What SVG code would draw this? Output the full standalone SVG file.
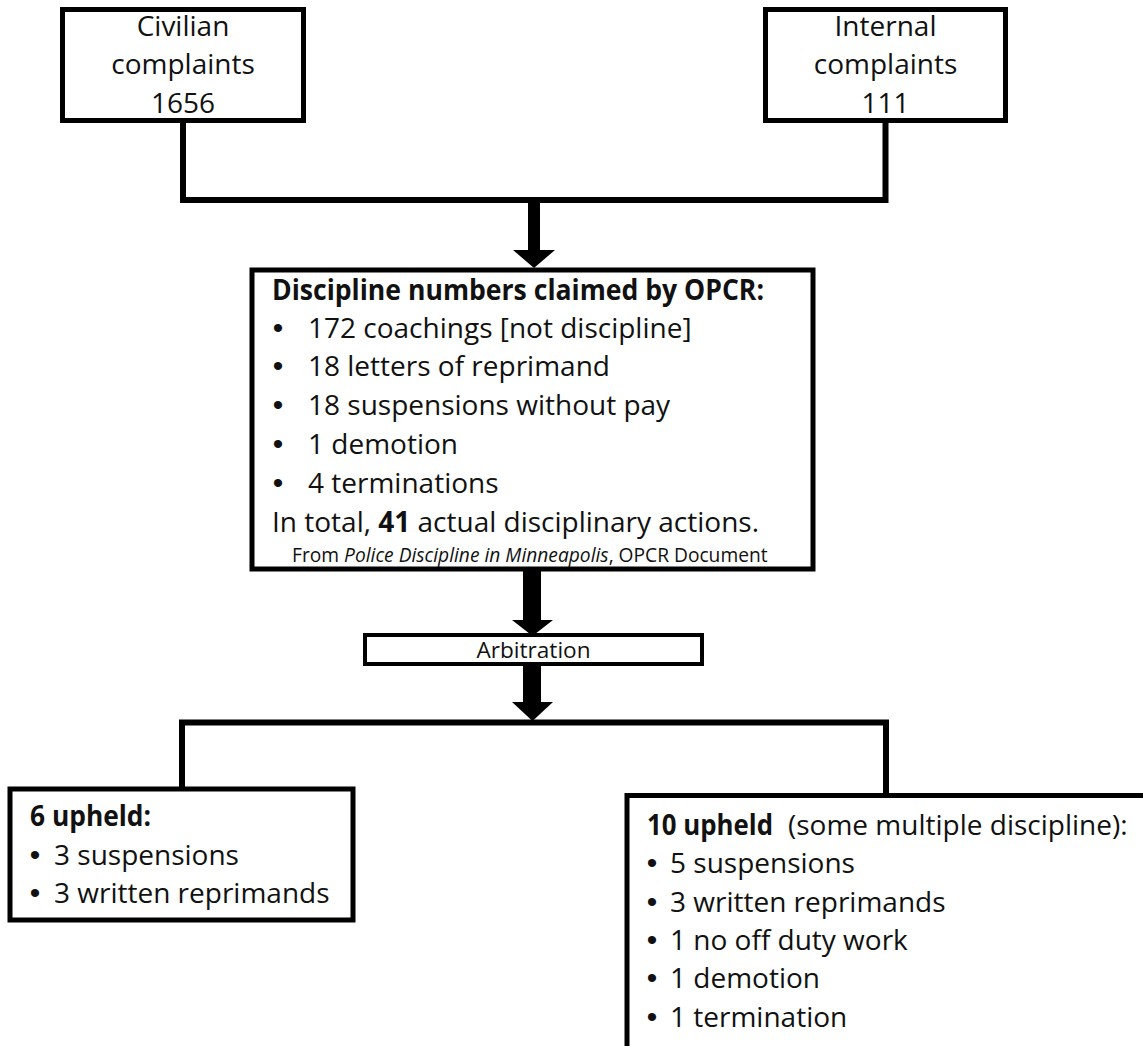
<svg xmlns="http://www.w3.org/2000/svg" width="1143" height="1046" viewBox="0 0 1143 1046">
<defs>
<style>
.box{fill:#fff;stroke:#000;stroke-width:5}
.thin{fill:#fff;stroke:#000;stroke-width:4}
.conn{fill:none;stroke:#000;stroke-width:6;stroke-linejoin:miter}
.arr{fill:#000;stroke:none}
text{font-family:"Open Sans","Noto Sans",sans-serif;fill:#111}
.t28{font-size:28px}
.b{font-weight:bold}
.c{text-anchor:middle}
.small{font-size:19.2px}
.arb{font-size:22.6px}
.bul{font-family:"Liberation Sans",Arial,sans-serif;font-size:30px;text-anchor:middle}
</style>
</defs>
<rect width="1143" height="1046" fill="#fff"/>
<g id="connectors">
<path class="conn" d="M183,121 V200 H885.5 V121"/>
<rect class="arr" x="528" y="200" width="12" height="51"/>
<polygon class="arr" points="513,250 555,250 534,268"/>
<rect class="arr" x="523" y="569" width="18" height="52"/>
<polygon class="arr" points="512,620 553,620 532.5,636"/>
<rect class="arr" x="523" y="664" width="18" height="39"/>
<polygon class="arr" points="512,702 553,702 532.5,721"/>
<path class="conn" d="M182,789 V722.5 H886 V795"/>
</g>
<g id="civilian">
<rect class="box" x="62.5" y="9.5" width="241" height="111"/>
<text class="t28 c" x="183" y="36">Civilian</text>
<text class="t28 c" x="183" y="74">complaints</text>
<text class="t28 c" x="183" y="113">1656</text>
</g>
<g id="internal">
<rect class="box" x="765.5" y="9.5" width="240" height="111"/>
<text class="t28 c" x="885.5" y="36">Internal</text>
<text class="t28 c" x="885.5" y="74">complaints</text>
<text class="t28 c" x="885.5" y="113">111</text>
</g>
<g id="opcr">
<rect class="box" x="252" y="270" width="561" height="299"/>
<text class="t28 b" x="272" y="300" textLength="492" lengthAdjust="spacingAndGlyphs">Discipline numbers claimed by OPCR:</text>
<text class="bul" x="278" y="338">•</text>
<text class="t28" x="308" y="338">172 coachings [not discipline]</text>
<text class="bul" x="278" y="376">•</text>
<text class="t28" x="308" y="376">18 letters of reprimand</text>
<text class="bul" x="278" y="415">•</text>
<text class="t28" x="308" y="415">18 suspensions without pay</text>
<text class="bul" x="278" y="454">•</text>
<text class="t28" x="308" y="454">1 demotion</text>
<text class="bul" x="278" y="493">•</text>
<text class="t28" x="308" y="493">4 terminations</text>
<text class="t28" x="272" y="532">In total, <tspan class="b">41</tspan> actual disciplinary actions.</text>
<text class="small" x="292" y="562">From <tspan font-style="italic">Police Discipline in Minneapolis</tspan>, OPCR Document</text>
</g>
<g id="arbitration">
<rect class="thin" x="365" y="635" width="337" height="29"/>
<text class="arb c" x="533.5" y="658">Arbitration</text>
</g>
<g id="upheld6">
<rect class="box" x="10" y="789" width="343" height="131"/>
<text class="t28 b" x="30" y="826" textLength="121" lengthAdjust="spacingAndGlyphs">6 upheld:</text>
<text class="bul" x="35" y="865">•</text>
<text class="t28" x="54" y="865">3 suspensions</text>
<text class="bul" x="35" y="903">•</text>
<text class="t28" x="54" y="903">3 written reprimands</text>
</g>
<g id="upheld10">
<rect class="box" x="627" y="795.5" width="600" height="400"/>
<text class="t28 b" x="647" y="835" textLength="126" lengthAdjust="spacingAndGlyphs">10 upheld</text>
<text class="t28" x="788" y="835">(some multiple discipline):</text>
<text class="bul" x="652" y="873">•</text>
<text class="t28" x="670" y="873">5 suspensions</text>
<text class="bul" x="652" y="912">•</text>
<text class="t28" x="670" y="912">3 written reprimands</text>
<text class="bul" x="652" y="950">•</text>
<text class="t28" x="670" y="950">1 no off duty work</text>
<text class="bul" x="652" y="988">•</text>
<text class="t28" x="670" y="988">1 demotion</text>
<text class="bul" x="652" y="1027">•</text>
<text class="t28" x="670" y="1027">1 termination</text>
</g>
</svg>
